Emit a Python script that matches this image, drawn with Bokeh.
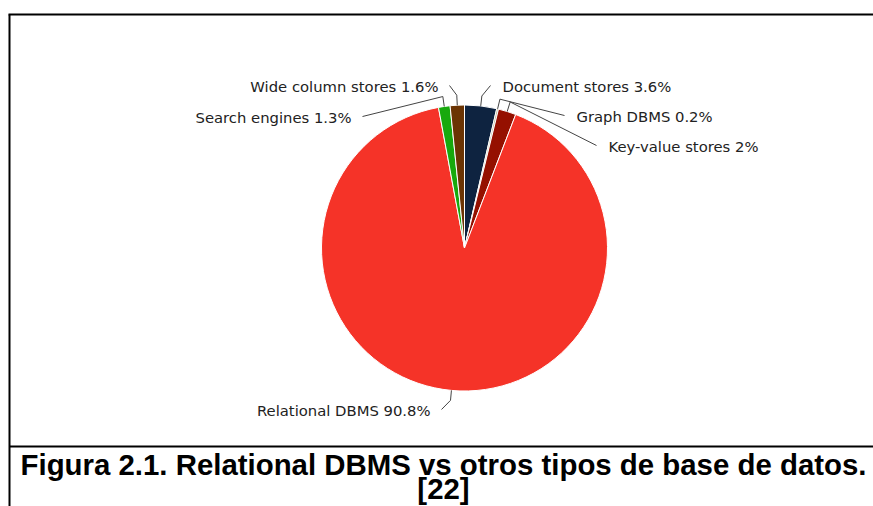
import numpy as np
from bokeh.plotting import figure
from bokeh.models import Range1d
from bokeh.core.properties import value
from bokeh.embed import file_html
from bokeh.resources import INLINE

# ---------------- data ----------------
categories = ["Document stores", "Graph DBMS", "Key-value stores",
              "Relational DBMS", "Search engines", "Wide column stores"]
shares = [3.6, 0.2, 2.0, 90.8, 1.3, 1.6]
colors = ["#0e2340", "#b4b48c", "#951000", "#f53328", "#17a90d", "#6b3403"]
caption_lines = ["Figura 2.1. Relational DBMS vs otros tipos de base de datos.", "[22]"]

# ---------------- layout (screen pixel positions) ----------------
W, H = 873, 506


def X(sx):
    return sx


def Y(sy):
    return H - sy


# label text anchors (screen x, screen y, alignment)
label_layout = [(502, 86, "left"), (576, 116, "left"), (608, 146, "left"),
                (430, 410, "right"), (351, 117, "right"), (438, 86, "right")]

cx, cy, R = X(464), Y(247.5), 143

p = figure(width=W, height=H, x_range=Range1d(0, W), y_range=Range1d(0, H),
           output_backend="svg", toolbar_location=None, min_border=0,
           x_axis_type=None, y_axis_type=None)
p.grid.visible = False
p.outline_line_color = None
p.background_fill_color = "white"

total = float(sum(shares))
fr = np.array(shares) / total
ends = np.cumsum(fr)
starts = ends - fr
start_ang = np.pi / 2 - starts * 2 * np.pi
end_ang = np.pi / 2 - ends * 2 * np.pi

p.wedge(x=cx, y=cy, radius=R, start_angle=list(start_ang), end_angle=list(end_ang),
        direction="clock", fill_color=colors, line_color="white", line_width=1)

# connectors
mid = (starts + ends) / 2 * 2 * np.pi
xs, ys = [], []
tx, ty, talign, texts = [], [], [], []
for i, (lx, ly, al) in enumerate(label_layout):
    th = mid[i]
    ex, ey = cx + R * np.sin(th), cy + R * np.cos(th)
    bx, by = cx + (R + 10) * np.sin(th), cy + (R + 10) * np.cos(th)
    ax = X(lx - 12) if al == "left" else X(lx + 11)
    xs.append([ax, bx, ex])
    ys.append([Y(ly - 1), by, ey])
    tx.append(X(lx))
    ty.append(Y(ly))
    talign.append(al)
    texts.append(f"{categories[i]} {shares[i]:g}%")

p.multi_line(xs=xs, ys=ys, line_color="#444444", line_width=1)
p.text(x=tx, y=ty, text=texts, text_align=talign, text_baseline="middle",
       text_font=value("DejaVu Sans"), text_font_size="14.8px", text_color="#222222")

# frame lines of the figure box
p.segment(x0=[X(8), X(9), X(9)], y0=[Y(14), Y(14), Y(446)],
          x1=[X(873), X(9), X(873)], y1=[Y(14), Y(506), Y(446)],
          line_color="black", line_width=2)

# caption
p.text(x=[X(443), X(443)], y=[Y(464), Y(488)], text=caption_lines,
       text_align="center", text_baseline="middle",
       text_font=value("Liberation Sans"), text_font_style="bold",
       text_font_size="29.4px", text_color="black")

open("out.html", "w").write(file_html(p, INLINE))
